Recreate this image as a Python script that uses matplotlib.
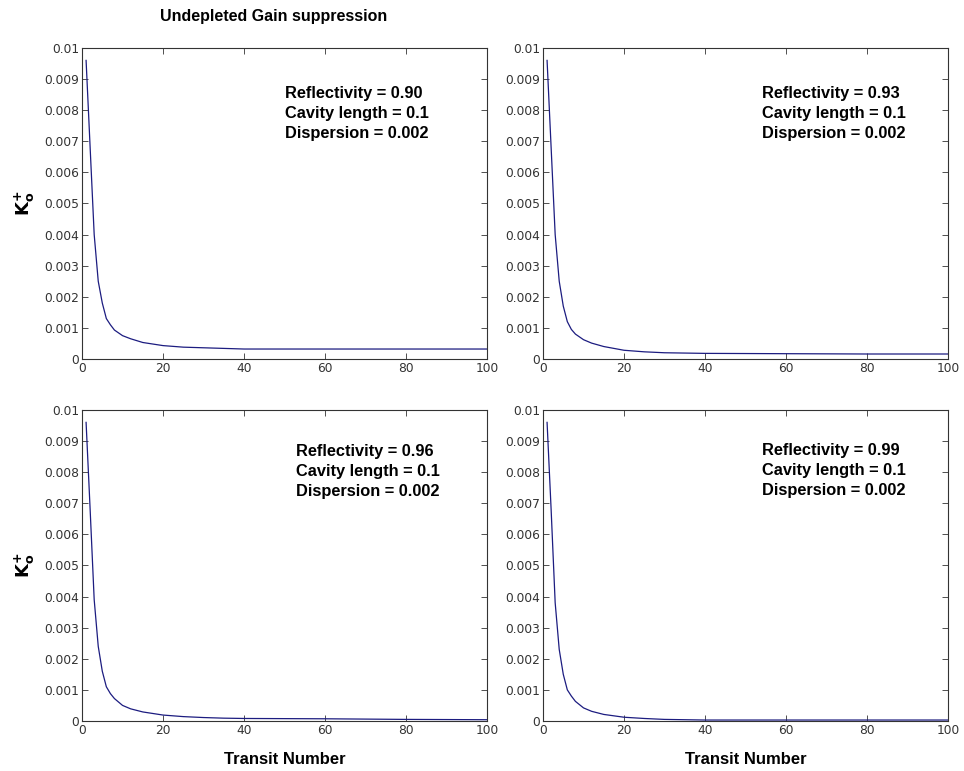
import matplotlib
matplotlib.use("Agg")
import matplotlib.pyplot as plt

# transit numbers sampled along the curves
transit = [1, 2, 3, 4, 5, 6, 7, 8, 10, 12, 15, 20, 25, 30, 35, 40, 60, 80, 100]

# K+o
k_090 = [0.0096, 0.0068, 0.0040, 0.0025, 0.0018, 0.0013, 0.0011, 0.00093, 0.00075, 0.00065,
         0.00053, 0.00043, 0.00038, 0.00036, 0.00034, 0.00032, 0.00032, 0.00032, 0.00032]
k_093 = [0.0096, 0.0068, 0.0040, 0.0025, 0.0017, 0.0012, 0.00095, 0.00080, 0.00062, 0.00051,
         0.00040, 0.00028, 0.00023, 0.00020, 0.00019, 0.00018, 0.00017, 0.00016, 0.00016]
k_096 = [0.0096, 0.0068, 0.0039, 0.0024, 0.0016, 0.0011, 0.00088, 0.00072, 0.00050, 0.00039,
         0.00029, 0.00019, 0.00014, 0.00011, 0.00009, 0.00008, 0.00007, 0.00005, 0.00004]
k_099 = [0.0096, 0.0068, 0.0038, 0.0023, 0.0015, 0.0010, 0.00080, 0.00063, 0.00042, 0.00031,
         0.00021, 0.00012, 0.00008, 0.00005, 0.00004, 0.00003, 0.00003, 0.00003, 0.00003]

reflectivity = ["0.90", "0.93", "0.96", "0.99"]
cavity_length = "0.1"
dispersion = "0.002"
series = [k_090, k_093, k_096, k_099]

yticks = [i / 1000 for i in range(11)]
ytick_labels = ["0"] + ["%.3f" % v for v in yticks[1:-1]] + ["0.01"]
xticks = [0, 20, 40, 60, 80, 100]

fig = plt.figure(figsize=(9.64, 7.71), dpi=100)

# axes boxes in figure fractions (left, bottom, width, height)
boxes = [(0.0851, 0.5344, 0.4201, 0.4034),
         (0.5633, 0.5344, 0.4201, 0.4034),
         (0.0851, 0.0649, 0.4201, 0.4034),
         (0.5633, 0.0649, 0.4201, 0.4034)]
# where the annotation block starts (axes fraction)
text_pos = [(0.501, 0.852), (0.541, 0.855), (0.528, 0.865), (0.541, 0.871)]

for i, (box, k, refl, tp) in enumerate(zip(boxes, series, reflectivity, text_pos)):
    ax = fig.add_axes(box)
    ax.plot(transit, k, color="#1c1c80", linewidth=0.9)
    ax.set_xlim(0, 100)
    ax.set_ylim(0, 0.01)
    ax.set_xticks(xticks)
    ax.set_yticks(yticks)
    ax.set_yticklabels(ytick_labels)
    ax.tick_params(direction="in", top=True, right=True, length=4.5, width=0.6,
                   labelsize=8.8, labelcolor="#333333", color="#333333", pad=2)
    for sp in ax.spines.values():
        sp.set_color("#333333")
        sp.set_linewidth(0.8)

    lines = ["Reflectivity = " + refl,
             "Cavity length = " + cavity_length,
             "Dispersion = " + dispersion]
    for j, line in enumerate(lines):
        ax.text(tp[0], tp[1] - j * 0.0643, line, transform=ax.transAxes,
                fontsize=11.8, fontweight="bold", family="Liberation Sans",
                ha="left", va="center")

    if i % 2 == 0:
        ax.set_ylabel(r"$\mathbf{K^{+}_{o}}$", fontsize=13, labelpad=5)
    if i >= 2:
        ax.set_xlabel("Transit Number", fontsize=12, fontweight="bold",
                      family="Liberation Sans", labelpad=11)

fig.text(0.166, 0.978, "Undepleted Gain suppression", fontsize=11.5,
         fontweight="bold", family="Liberation Sans", ha="left", va="center")

fig.savefig("out.png", dpi=100)
